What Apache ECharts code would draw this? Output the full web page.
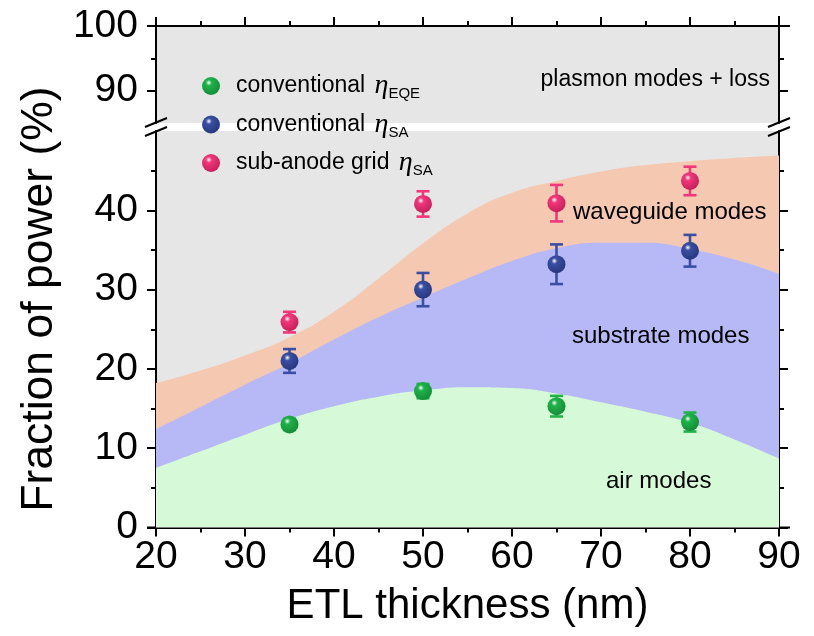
<!DOCTYPE html>
<html><head><meta charset="utf-8">
<script src="https://cdn.jsdelivr.net/npm/echarts@6/dist/echarts.min.js"></script>
<style>html,body{margin:0;padding:0;background:#fff}#c{width:814px;height:636px}</style>
</head><body><div id="c"></div>
<script>
// ---- data ----
const modelX = [20, 25, 30, 35, 40, 45, 50, 55, 60, 65, 70, 75, 80, 85, 90];
const airTop = [7.5, 9.6, 11.7, 13.7, 15.3, 16.5, 17.3, 17.7, 17.6, 16.9, 15.8, 14.6, 13.2, 11.1, 8.7];
const substrateTop = [12.4, 15.2, 18.0, 20.7, 23.7, 26.5, 29.0, 31.4, 33.6, 35.2, 35.9, 35.9, 35.1, 33.8, 32.0];
const waveguideTop = [18.2, 19.8, 21.7, 24.0, 27.2, 31.4, 35.8, 39.6, 42.2, 43.7, 44.9, 45.7, 46.2, 46.6, 46.9];

const measX = [35, 50, 65, 80];
const eqeConv = [13.0, 17.2, 15.3, 13.3];
const eqeConvErr = [0.7, 0.9, 1.3, 1.2];
const saConv = [21.0, 30.0, 33.2, 34.9];
const saConvErr = [1.5, 2.1, 2.5, 2.0];
const saGrid = [25.9, 40.8, 40.9, 43.7];
const saGridErr = [1.3, 1.6, 2.3, 1.8];

const xTicks = [20, 30, 40, 50, 60, 70, 80, 90];
const yTicksLow = [0, 10, 20, 30, 40];
const yMinorLow = [5, 15, 25, 35, 45];
const yTicksHigh = [90, 100];
const yMinorHigh = [95];

const seriesNames = ['conventional ηEQE', 'conventional ηSA', 'sub-anode grid ηSA'];

// ---- layout ----
const FONT = "'Liberation Sans', Arial, sans-serif";
const GL = 156, GR = 779, UT = 26, UB = 123, LT = 131, LB = 527.5;

function ball(base, dark) {
  return { type: 'radial', x: 0.38, y: 0.32, r: 0.75,
    colorStops: [{offset: 0, color: '#ffffff'}, {offset: 0.22, color: base}, {offset: 1, color: dark}] };
}
const cGreen = '#1fb34a', cBlue = '#3a4fa3', cPink = '#f2377a';

const chart = echarts.init(document.getElementById('c'), null, {renderer: 'canvas'});

const axisLine = {show: true, lineStyle: {color: '#000', width: 2}};
function yAxisDef(grid, pos, min, max, ticks, labels, len) {
  return {
    type: 'value', gridIndex: grid, position: pos, min: min, max: max,
    axisLine: len === 9 ? axisLine : {show: false},
    splitLine: {show: false},
    axisTick: {show: true, length: len, lineStyle: {color: '#000', width: 2}, customValues: ticks},
    axisLabel: labels ? {show: true, customValues: ticks, fontSize: 39, fontFamily: FONT, color: '#000', margin: 18} : {show: false}
  };
}

function errItem(color) {
  return function (params, api) {
    const x = api.value(0), y = api.value(1), e = api.value(2);
    const hi = api.coord([x, y + e]), lo = api.coord([x, y - e]);
    const w = 6.5;
    const st = {stroke: color, lineWidth: 2.6};
    return {type: 'group', children: [
      {type: 'line', shape: {x1: hi[0], y1: hi[1], x2: lo[0], y2: lo[1]}, style: st},
      {type: 'line', shape: {x1: hi[0] - w, y1: hi[1], x2: hi[0] + w, y2: hi[1]}, style: st},
      {type: 'line', shape: {x1: lo[0] - w, y1: lo[1], x2: lo[0] + w, y2: lo[1]}, style: st}
    ]};
  };
}

function areaSeries(vals, color, z) {
  return {type: 'line', xAxisIndex: 1, yAxisIndex: 2, data: modelX.map((x, i) => [x, vals[i]]),
    smooth: 0.5, symbol: 'none', lineStyle: {width: 0}, areaStyle: {color: color, opacity: 1}, z: z, silent: true};
}
function errSeries(vals, errs, color) {
  return {type: 'custom', xAxisIndex: 1, yAxisIndex: 2, renderItem: errItem(color),
    data: measX.map((x, i) => [x, vals[i], errs[i]]), encode: {x: 0, y: 1}, z: 6, silent: true};
}
function ptSeries(name, vals, fill) {
  return {type: 'scatter', name: name, xAxisIndex: 1, yAxisIndex: 2, symbol: 'circle', symbolSize: 18,
    data: measX.map((x, i) => [x, vals[i]]), itemStyle: {color: fill, opacity: 1}, z: 8};
}

const richLegend = {
  t: {fontSize: 23, fontFamily: FONT, color: '#000'},
  e: {fontSize: 28, fontFamily: "'Liberation Serif', 'Times New Roman', serif", fontStyle: 'italic', color: '#000', padding: [0, 0, 0, 3]},
  s: {fontSize: 15, fontFamily: FONT, color: '#000', padding: [16, 0, 0, 0]}
};

const option = {
  animation: false,
  backgroundColor: '#fff',
  grid: [
    {left: GL, width: GR - GL, top: UT, height: UB - UT, show: true, backgroundColor: '#e6e6e6', borderWidth: 0},
    {left: GL, width: GR - GL, top: LT, height: LB - LT, show: true, backgroundColor: '#e6e6e6', borderWidth: 0}
  ],
  xAxis: [
    {type: 'value', gridIndex: 0, position: 'top', min: 20, max: 90, interval: 10,
      axisLine: axisLine, splitLine: {show: false}, axisLabel: {show: false},
      axisTick: {show: true, length: 9, lineStyle: {color: '#000', width: 2}},
      minorTick: {show: true, splitNumber: 2, length: 5, lineStyle: {color: '#000', width: 2}}},
    {type: 'value', gridIndex: 1, position: 'bottom', min: 20, max: 90, interval: 10,
      axisLine: axisLine, splitLine: {show: false},
      axisLabel: {show: true, fontSize: 39, fontFamily: FONT, color: '#000', margin: 10},
      axisTick: {show: true, length: 9, lineStyle: {color: '#000', width: 2}},
      minorTick: {show: true, splitNumber: 2, length: 5, lineStyle: {color: '#000', width: 2}},
      name: 'ETL thickness (nm)', nameLocation: 'middle', nameGap: 58,
      nameTextStyle: {fontSize: 42, fontFamily: FONT, color: '#000'}}
  ],
  yAxis: [
    yAxisDef(0, 'left', 85, 100, yTicksHigh, true, 9),
    yAxisDef(0, 'right', 85, 100, yTicksHigh, false, 9),
    yAxisDef(1, 'left', 0, 50, yTicksLow, true, 9),
    yAxisDef(1, 'right', 0, 50, yTicksLow, false, 9),
    yAxisDef(0, 'left', 85, 100, yMinorHigh, false, 5),
    yAxisDef(0, 'right', 85, 100, yMinorHigh, false, 5),
    yAxisDef(1, 'left', 0, 50, yMinorLow, false, 5),
    yAxisDef(1, 'right', 0, 50, yMinorLow, false, 5)
  ],
  legend: {
    orient: 'vertical', left: 197, top: 67, itemWidth: 40, itemHeight: 18, itemGap: 9,
    selectedMode: false, icon: 'circle', data: seriesNames,
    formatter: function (name) {
      const sub = name.indexOf('EQE') >= 0 ? 'EQE' : 'SA';
      const base = name.replace('η' + sub, '');
      return '{t|' + base + '}{e|η}{s|' + sub + '}';
    },
    textStyle: {rich: richLegend}
  },
  series: [
    areaSeries(waveguideTop, '#f5c8b1', 1),
    areaSeries(substrateTop, '#b6b9f6', 2),
    areaSeries(airTop, '#d6f9d7', 3),
    errSeries(eqeConv, eqeConvErr, cGreen),
    errSeries(saConv, saConvErr, cBlue),
    errSeries(saGrid, saGridErr, cPink),
    ptSeries(seriesNames[0], eqeConv, ball(cGreen, '#128a36')),
    ptSeries(seriesNames[1], saConv, ball(cBlue, '#24357a')),
    ptSeries(seriesNames[2], saGrid, ball(cPink, '#c21d58'))
  ]
};
chart.setOption(option);

// decorations: region labels, y title, axis-break marks, axis-line overhangs
const tStyle = (txt, size) => ({text: txt, fontSize: size, fontFamily: FONT, fill: '#000'});
function breakMarks(x) {
  return [
    {type: 'line', shape: {x1: x - 11, y1: 127, x2: x + 11, y2: 118}, style: {stroke: '#000', lineWidth: 2}, z: 100},
    {type: 'line', shape: {x1: x - 11, y1: 136, x2: x + 11, y2: 127}, style: {stroke: '#000', lineWidth: 2}, z: 100}
  ];
}
const lineSt = {stroke: '#000', lineWidth: 2};
chart.setOption({
  graphic: [
    {type: 'text', x: 770, y: 80, style: Object.assign(tStyle('plasmon modes + loss', 23), {align: 'right', verticalAlign: 'middle'}), z: 100},
    {type: 'text', x: 573, y: 212, style: Object.assign(tStyle('waveguide modes', 24), {align: 'left', verticalAlign: 'middle'}), z: 100},
    {type: 'text', x: 572, y: 336, style: Object.assign(tStyle('substrate modes', 24), {align: 'left', verticalAlign: 'middle'}), z: 100},
    {type: 'text', x: 606, y: 481, style: Object.assign(tStyle('air modes', 24), {align: 'left', verticalAlign: 'middle'}), z: 100},
    {type: 'text', x: 40, y: 299, rotation: Math.PI / 2, style: Object.assign(tStyle('Fraction of power (%)', 44.5), {align: 'center', verticalAlign: 'middle'}), z: 100},
    {type: 'line', shape: {x1: GL - 9, y1: UT, x2: GL, y2: UT}, style: lineSt, z: 100},
    {type: 'line', shape: {x1: GR, y1: UT, x2: GR + 11, y2: UT}, style: lineSt, z: 100},
    {type: 'line', shape: {x1: GR, y1: UT - 10, x2: GR, y2: UT}, style: lineSt, z: 100},
    {type: 'line', shape: {x1: GR, y1: LB, x2: GR + 11, y2: LB}, style: lineSt, z: 100},
    {type: 'line', shape: {x1: GL - 9, y1: LB, x2: GL, y2: LB}, style: lineSt, z: 100}
  ].concat(breakMarks(GL), breakMarks(GR))
});
</script></body></html>
